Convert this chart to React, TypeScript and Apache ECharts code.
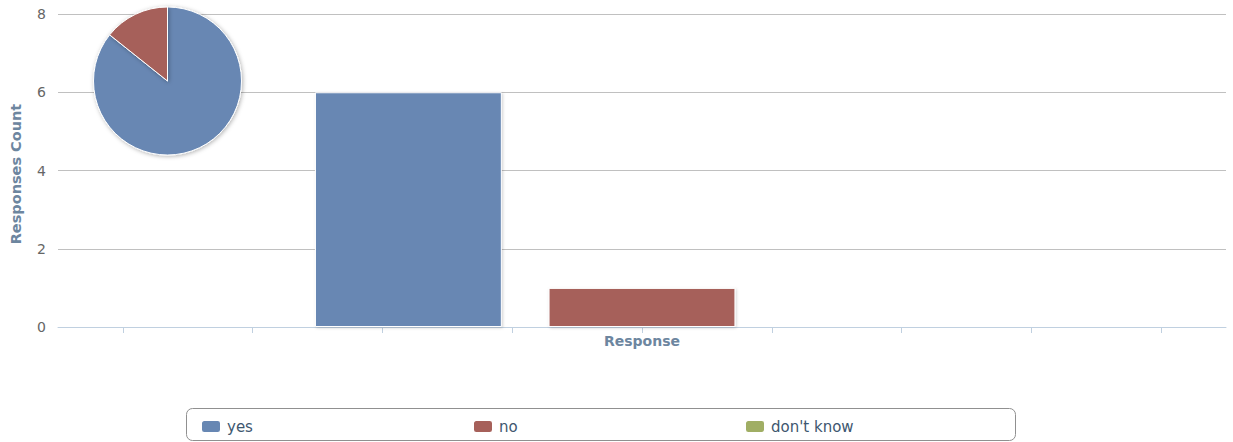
import React, { useEffect, useRef } from "react";
import * as echarts from "echarts";

const categories = ["Response"];
const seriesNames = ["yes", "no", "don't know"];
const yesValues = [6];
const noValues = [1];
const dontKnowValues = [0];
const tickSlots = ["", "", "", "", "", "", "", "", ""];
const yTicks = { min: 0, max: 8, interval: 2 };
const colors = ["#6787B3", "#A6605A", "#A0AE64"];
const legendLefts = [200, 472, 744];

const FONT = "DejaVu Sans, Verdana, sans-serif";

export default function App() {
  const ref = useRef<HTMLDivElement>(null);
  useEffect(() => {
    if (!ref.current) return;
    const chart = echarts.init(ref.current, undefined, { renderer: "svg" });
    const barValues = [yesValues, noValues, dontKnowValues];
    const barShadow = {
      borderColor: "#ffffff",
      borderWidth: 1,
      shadowColor: "rgba(0,0,0,0.18)",
      shadowBlur: 3,
      shadowOffsetX: 1,
      shadowOffsetY: 1,
    };
    const bars = seriesNames.map((name, i) => ({
      type: "bar",
      name,
      xAxisIndex: 0,
      yAxisIndex: 0,
      data: barValues[i],
      barCategoryGap: "44%",
      barGap: "25%",
      itemStyle: { color: colors[i], ...barShadow },
      emphasis: { disabled: true },
      z: 2,
    }));
    const pieData = seriesNames.map((name, i) => ({
      name,
      value: barValues[i][0],
      itemStyle: { color: colors[i] },
    }));
    const legends = seriesNames.map((name, i) => ({
      data: [name],
      left: legendLefts[i],
      top: 419,
      orient: "horizontal",
      padding: 0,
      itemWidth: 20,
      itemHeight: 13,
      icon: "roundRect",
      textStyle: { color: "#3E576F", fontSize: 15, fontFamily: FONT, padding: [0, 0, 0, 1] },
    }));
    chart.setOption({
      animation: false,
      color: colors,
      textStyle: { fontFamily: FONT },
      grid: { left: 58, right: 7, top: 14, bottom: 115, containLabel: false },
      legend: legends,
      graphic: [
        {
          type: "rect",
          shape: { x: 186.5, y: 408.5, width: 829, height: 32, r: 6 },
          style: { fill: "none", stroke: "#909090", lineWidth: 1 },
          silent: true,
        },
      ],
      xAxis: [
        {
          type: "category",
          data: categories,
          position: "bottom",
          name: "Response",
          nameLocation: "middle",
          nameGap: 7,
          nameTextStyle: { color: "#6D869F", fontWeight: "bold", fontSize: 14, fontFamily: FONT },
          axisLine: { show: true, lineStyle: { color: "#C0D0E0", width: 1 } },
          axisTick: { show: false },
          axisLabel: { show: false },
          splitLine: { show: false },
        },
        {
          type: "category",
          data: tickSlots,
          position: "bottom",
          boundaryGap: true,
          axisLine: { show: false },
          axisTick: { show: true, alignWithLabel: true, length: 6, lineStyle: { color: "#C0D0E0", width: 1 } },
          axisLabel: { show: false },
          splitLine: { show: false },
        },
      ],
      yAxis: {
        type: "value",
        min: yTicks.min,
        max: yTicks.max,
        interval: yTicks.interval,
        name: "Responses Count",
        nameLocation: "middle",
        nameGap: 35,
        nameTextStyle: {
          color: "#6D869F",
          fontWeight: "bold",
          fontSize: 14.5,
          fontFamily: FONT,
          padding: [0, 7, 0, 0],
        },
        axisLine: { show: false },
        axisTick: { show: false },
        axisLabel: { color: "#666666", fontSize: 14, margin: 12, fontFamily: FONT },
        splitLine: { lineStyle: { color: "#C0C0C0", width: 1 } },
      },
      series: [
        ...bars,
        {
          type: "pie",
          name: "Responses",
          center: [167.5, 81],
          radius: 74,
          startAngle: 90,
          clockwise: true,
          label: { show: false },
          labelLine: { show: false },
          emphasis: { disabled: true },
          itemStyle: {
            borderColor: "#ffffff",
            borderWidth: 1,
            shadowColor: "rgba(0,0,0,0.3)",
            shadowBlur: 4,
            shadowOffsetX: 1,
            shadowOffsetY: 1,
          },
          data: pieData,
          z: 5,
        },
      ],
    });
    return () => chart.dispose();
  }, []);
  return <div ref={ref} style={{ width: 1233, height: 442, position: "absolute", left: 0, top: 0 }} />;
}
